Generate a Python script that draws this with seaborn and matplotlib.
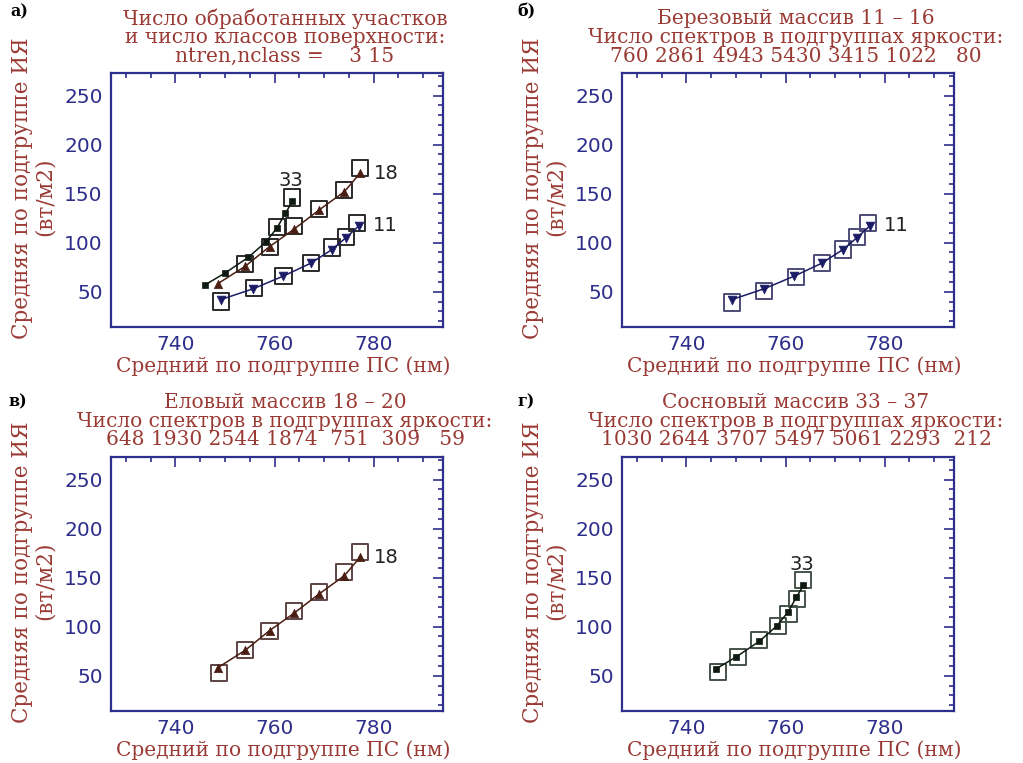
import numpy as np
import pandas as pd
import matplotlib
matplotlib.use("Agg")
import matplotlib.pyplot as plt
import seaborn as sns
from matplotlib.ticker import MultipleLocator

# ---------------- data ----------------
x11 = [749.2, 755.7, 761.8, 767.3, 771.6, 774.4, 777.0]
y11 = [42, 53, 66, 79, 93, 105, 117]
x18 = [748.5, 754.1, 759.0, 764.0, 768.9, 774.1, 777.3]
y18 = [58, 76, 96, 114, 133, 152, 171]
x33 = [746.0, 750.0, 754.7, 758.3, 760.5, 762.2, 763.6]
y33 = [57, 69, 85, 101, 115, 130, 142]

# class-centre boxes
box_a_x = [749.2, 755.9, 761.8, 767.3, 771.6, 774.4, 776.6,
           754.1, 759.1, 764.0, 768.9, 774.1, 777.2, 760.5, 763.5]
box_a_y = [40, 54, 66, 79, 95, 106, 120,
           78, 96, 117, 134, 154, 176, 116, 146]
box_b_x = [749.2, 755.7, 762.2, 767.3, 771.6, 774.5, 776.7]
box_b_y = [39, 51, 65, 79, 93, 106, 120]
box_c_x = [748.8, 754.1, 759.0, 764.0, 768.9, 774.1, 777.3]
box_c_y = [53, 76, 96, 116, 135, 156, 176]
box_d_x = [746.3, 750.4, 754.7, 758.4, 760.6, 762.3, 763.6]
box_d_y = [54, 69, 86, 101, 113, 128, 148]

counts_b = [760, 2861, 4943, 5430, 3415, 1022, 80]
counts_c = [648, 1930, 2544, 1874, 751, 309, 59]
counts_d = [1030, 2644, 3707, 5497, 5061, 2293, 212]

ntren, nclass = 3, 15
panel_letters = ["а)", "б)", "в)", "г)"]
xlabel = "Средний по подгруппе ПС (нм)"
ylabel1 = "Средняя по подгруппе ИЯ"
ylabel2 = "(вт/м2)"

# ---------------- style ----------------
sns.set_theme(style="white")
plt.rcParams["font.family"] = ["DejaVu Sans"]

W, H = 1023, 763
NAVY = "#2e2e8c"
TITLE = "#9a3a34"
C11 = "#1b1b66"
C18 = "#4a1e12"
C33 = "#0e1a12"
TFS = 14.5

fig = plt.figure(figsize=(W / 100, H / 100), dpi=100)


def fx(px):
    return px / W


def fy(py):
    return 1 - py / H


def make_axes(left, top, w=332, h=254):
    ax = fig.add_axes([fx(left), fy(top + h), w / W, h / H])
    ax.set_xlim(727, 794)
    ax.set_ylim(14, 273)
    ax.xaxis.set_major_locator(MultipleLocator(20))
    ax.xaxis.set_minor_locator(MultipleLocator(5))
    ax.yaxis.set_major_locator(MultipleLocator(50))
    ax.yaxis.set_minor_locator(MultipleLocator(10))
    ax.tick_params(which="both", direction="in", top=True, right=True,
                   color=NAVY, width=1.2, labelcolor=NAVY, labelsize=14.5)
    ax.tick_params(which="major", length=7, pad=6)
    ax.tick_params(which="minor", length=3.5)
    for s in ax.spines.values():
        s.set_color(NAVY)
        s.set_linewidth(1.6)
        s.set_visible(True)
    ax.set_facecolor("white")
    # axis labels (as figure text)
    fig.text(fx(left + w / 2 + 6), fy(top + h + 39), xlabel, ha="center", va="center",
             family="DejaVu Serif", fontsize=TFS, color=TITLE)
    fig.text(fx(left - 89), fy(top + 115), ylabel1, ha="center", va="center", rotation=90,
             family="DejaVu Serif", fontsize=15.5, color=TITLE)
    fig.text(fx(left - 66), fy(top + 124), ylabel2, ha="center", va="center", rotation=90,
             family="DejaVu Serif", fontsize=15.5, color=TITLE)
    return ax


def titles(left, top, lines, w=332):
    for i, t in enumerate(lines):
        fig.text(fx(left + w / 2 + 8), fy(top - 54 + 18.5 * i), t, ha="center", va="center",
                 family="DejaVu Serif", fontsize=TFS, color=TITLE)


def series(ax, xs, ys, color, marker, ms):
    df = pd.DataFrame({"x": xs, "y": ys})
    sns.lineplot(data=df, x="x", y="y", sort=False, estimator=None, color=color,
                 lw=1.1, ax=ax, zorder=3)
    sns.scatterplot(data=df, x="x", y="y", marker=marker, s=ms, color=color,
                    edgecolor=color, linewidth=0.5, ax=ax, zorder=4)


def boxes(ax, xs, ys, color):
    df = pd.DataFrame({"x": xs, "y": ys})
    sns.scatterplot(data=df, x="x", y="y", marker="s", s=135, facecolor="none",
                    edgecolor=color, linewidth=1.4, ax=ax, zorder=2)


def label_right(ax, xs, ys, text):
    ax.annotate(text, (xs[-1], ys[-1]), xytext=(10, 0), textcoords="offset points",
                ha="left", va="center", fontsize=14, color="#222222", zorder=5)


def label_top(ax, xs, ys, text):
    ax.annotate(text, (xs[-1], ys[-1]), xytext=(-1, 15), textcoords="offset points",
                ha="center", va="center", fontsize=14, color="#222222", zorder=5)


def fmt_counts(c):
    return "".join("%5d" % v for v in c).strip()


def finish(ax):
    ax.set_xlabel("")
    ax.set_ylabel("")


positions = [(111, 73), (622, 73), (111, 457), (622, 457)]

# panel a
ax = make_axes(*positions[0])
boxes(ax, box_a_x, box_a_y, "#2a2a2a")
series(ax, x11, y11, C11, "v", 40)
series(ax, x18, y18, C18, "^", 36)
series(ax, x33, y33, C33, "s", 18)
label_top(ax, x33, y33, "33")
label_right(ax, x18, y18, "18")
label_right(ax, x11, y11, "11")
finish(ax)
titles(positions[0][0], positions[0][1],
       ["Число обработанных участков", "и число классов поверхности:",
        "ntren,nclass =    %d %d" % (ntren, nclass)])

# panel b
ax = make_axes(*positions[1])
boxes(ax, box_b_x, box_b_y, "#4c4c78")
series(ax, x11, y11, C11, "v", 40)
label_right(ax, x11, y11, "11")
finish(ax)
titles(positions[1][0], positions[1][1],
       ["Березовый массив 11 – 16", "Число спектров в подгруппах яркости:",
        fmt_counts(counts_b)])

# panel c
ax = make_axes(*positions[2])
boxes(ax, box_c_x, box_c_y, "#5e4444")
series(ax, x18, y18, C18, "^", 36)
label_right(ax, x18, y18, "18")
finish(ax)
titles(positions[2][0], positions[2][1],
       ["Еловый массив 18 – 20", "Число спектров в подгруппах яркости:",
        fmt_counts(counts_c)])

# panel d
ax = make_axes(*positions[3])
boxes(ax, box_d_x, box_d_y, "#44524a")
series(ax, x33, y33, C33, "s", 18)
label_top(ax, x33, y33, "33")
finish(ax)
titles(positions[3][0], positions[3][1],
       ["Сосновый массив 33 – 37", "Число спектров в подгруппах яркости:",
        fmt_counts(counts_d)])

# panel letters
for (px, py), t in zip([(10, 12), (517, 12), (8, 402), (517, 402)], panel_letters):
    fig.text(fx(px), fy(py), t, ha="left", va="center", family="DejaVu Serif",
             fontsize=11.5, fontweight="bold", color="black")

fig.savefig("out.png", dpi=100, facecolor="white")
